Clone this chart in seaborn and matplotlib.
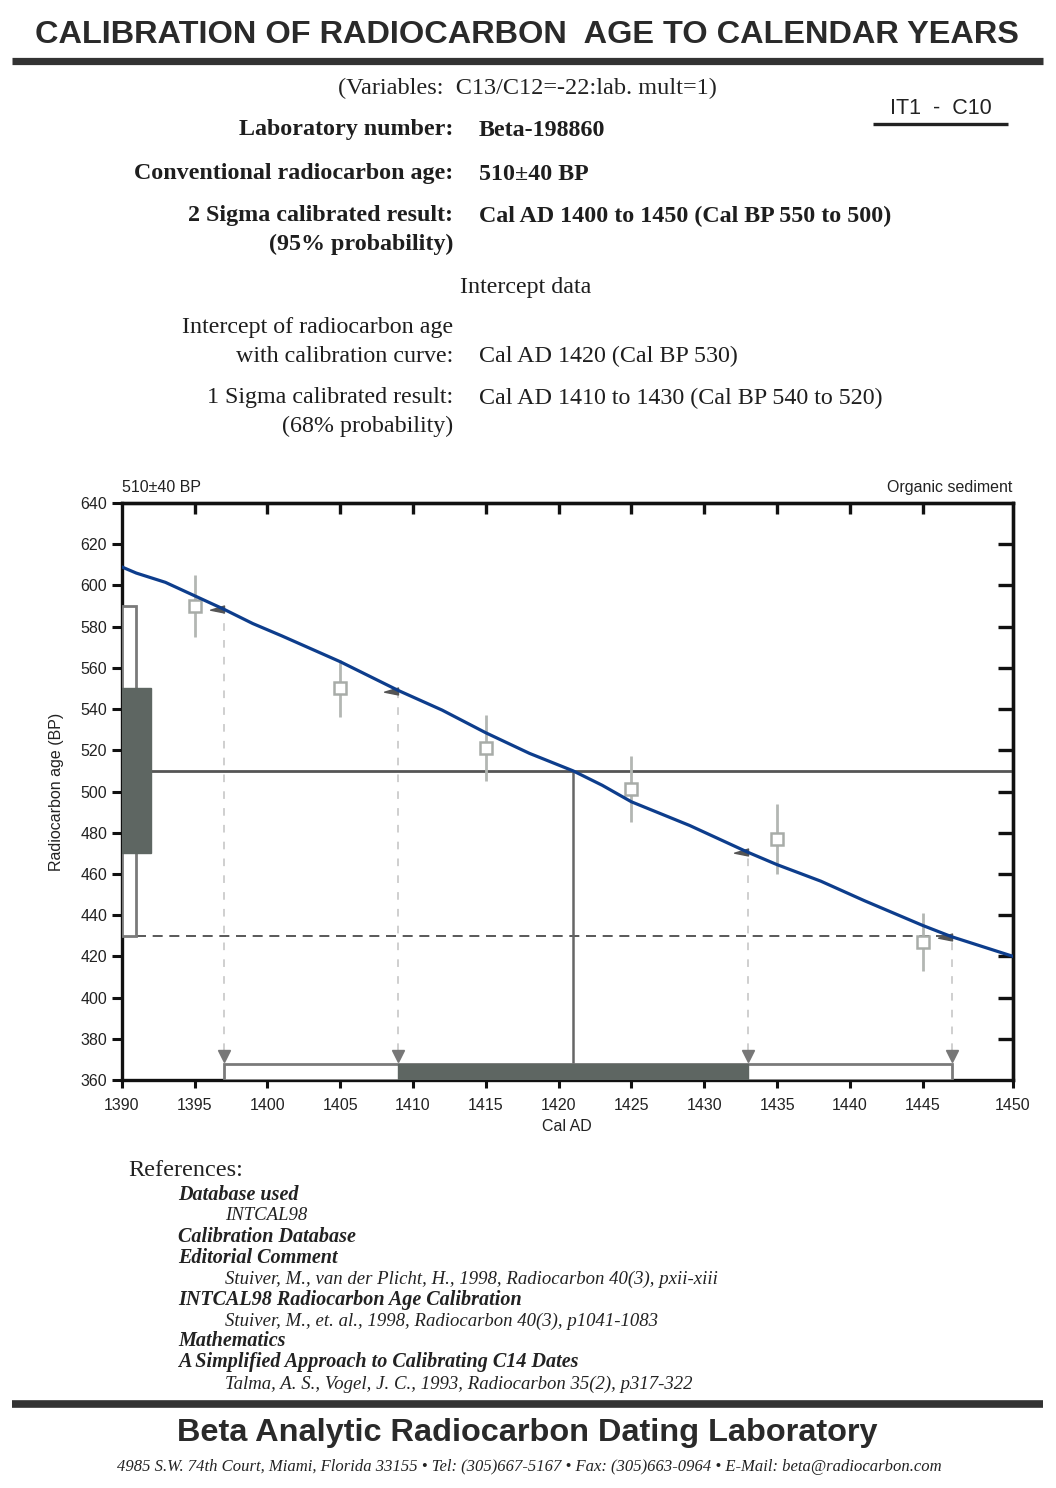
import matplotlib
matplotlib.use("Agg")
import matplotlib.pyplot as plt
import seaborn as sns
import pandas as pd
from matplotlib.patches import Rectangle
from matplotlib.lines import Line2D
from matplotlib.path import Path

# ---------------- data ----------------
curve_years = [1390, 1391, 1393, 1395, 1397, 1399, 1401, 1405, 1409, 1412, 1415,
               1418, 1421, 1423, 1425, 1429, 1433, 1435, 1438, 1441, 1445, 1447, 1451.2]
curve_bp = [609, 606, 601.5, 595, 588.5, 581.5, 575.5, 563, 549, 539.5, 528.5,
            518.5, 510, 503, 495, 483.5, 470.5, 464.5, 456.5, 447, 435, 429.5, 420]

sample_years = [1395, 1405, 1415, 1425, 1435, 1445]
sample_bp = [590, 550, 521, 501, 477, 427]
sample_err = [15, 14, 16, 16, 17, 14]

c14_age = 510
one_sigma_bp = [470, 550]
two_sigma_bp = [430, 590]
intercept_year = 1421
two_sigma_years = [1397, 1447]
one_sigma_years = [1409, 1433]
edge_years = [1397, 1409, 1433, 1447]
edge_bp = [588.5, 549, 470.5, 429.5]

x_tick_labels = ["1390", "1395", "1400", "1405", "1410", "1415", "1420",
                 "1425", "1430", "1435", "1440", "1445", "1450"]
x_tick_pos = [1390, 1395, 1400, 1405, 1410, 1415, 1420, 1425, 1430, 1435, 1440, 1445, 1451.2]
y_ticks = [360, 380, 400, 420, 440, 460, 480, 500, 520, 540, 560, 580, 600, 620, 640]

# ---------------- styling ----------------
sns.set_theme(style="ticks")
plt.rcParams["font.family"] = ["Liberation Sans", "DejaVu Sans"]

W, H = 1056, 1488
fig = plt.figure(figsize=(W / 100, H / 100), dpi=100)
fig.patch.set_facecolor("white")

SERIF = ["Liberation Serif", "DejaVu Serif"]
SANS = ["Liberation Sans", "DejaVu Sans"]


def ftext(x, y, s, **kw):
    kw.setdefault("va", "center")
    fig.text(x / W, 1 - y / H, s, **kw)


def hrule(x0, x1, y, lw, color="#333333"):
    fig.add_artist(Line2D([x0 / W, x1 / W], [1 - y / H, 1 - y / H], lw=lw, color=color,
                          solid_capstyle="butt"))


# ---------------- header ----------------
ftext(527, 35, "CALIBRATION OF RADIOCARBON  AGE TO CALENDAR YEARS", ha="center",
      family=SANS, fontweight="bold", fontsize=23.4, color="#2a2a2a")
hrule(12, 1043, 60.5, 5.2)
ftext(527, 88, "(Variables:  C13/C12=-22:lab. mult=1)", ha="center", family=SERIF,
      fontsize=17.5, color="#222")
ftext(941, 108, "IT1  -  C10", ha="center", family=SANS, fontsize=15.5, color="#222")
hrule(873, 1008, 124, 2.4, "#222")

left_rows = [
    (130, "Laboratory number:", "Beta-198860", "bold"),
    (174, "Conventional radiocarbon age:", "510±40 BP", "bold"),
    (216, "2 Sigma calibrated result:", "Cal AD 1400 to 1450 (Cal BP 550 to 500)", "bold"),
    (244, "(95% probability)", "", "bold"),
    (328, "Intercept of radiocarbon age", "", "normal"),
    (356, "with calibration curve:", "Cal AD 1420 (Cal BP 530)", "normal"),
    (398, "1 Sigma calibrated result:", "Cal AD 1410 to 1430 (Cal BP 540 to 520)", "normal"),
    (426, "(68% probability)", "", "normal"),
]
for y, lab, val, wt in left_rows:
    ftext(453, y, lab, ha="right", family=SERIF, fontweight=wt, fontsize=17.3, color="#1e1e1e")
    if val:
        ftext(479, y, val, ha="left", family=SERIF, fontweight=wt, fontsize=17.3, color="#1e1e1e")
ftext(526, 287, "Intercept data", ha="center", family=SERIF, fontsize=17.3, color="#1e1e1e")

# ---------------- chart ----------------
ax_l, ax_r, ax_t, ax_b = 121.7, 1013, 503, 1080
ax = fig.add_axes([ax_l / W, 1 - ax_b / H, (ax_r - ax_l) / W, (ax_b - ax_t) / H])
ax.set_facecolor("white")
ax.set_xlim(x_tick_pos[0], x_tick_pos[-1])
ax.set_ylim(y_ticks[0], y_ticks[-1])

bar_top = 368
dark = "#5e6662"
edge = "#7a7a7a"

# left BP bars
ax.add_patch(Rectangle((1390, two_sigma_bp[0]), 1.0, two_sigma_bp[1] - two_sigma_bp[0],
                       facecolor="white", edgecolor=edge, lw=2, zorder=3))
ax.add_patch(Rectangle((1390, one_sigma_bp[0]), 2.0, one_sigma_bp[1] - one_sigma_bp[0],
                       facecolor=dark, edgecolor=dark, lw=1, zorder=4))
# bottom calendar bars
ax.add_patch(Rectangle((two_sigma_years[0], 360), two_sigma_years[1] - two_sigma_years[0],
                       bar_top - 360, facecolor="white", edgecolor=edge, lw=2, zorder=3))
ax.add_patch(Rectangle((one_sigma_years[0], 360), one_sigma_years[1] - one_sigma_years[0],
                       bar_top - 360, facecolor=dark, edgecolor=dark, lw=1, zorder=4))

# age line and intercept
ax.plot([1392, x_tick_pos[-1]], [c14_age, c14_age], color="#555555", lw=2, zorder=2)
ax.plot([1391, two_sigma_years[1]], [two_sigma_bp[0], two_sigma_bp[0]], color="#3c3c3c",
        lw=1.2, ls=(0, (6, 4)), zorder=2)
ax.plot([intercept_year, intercept_year], [bar_top, c14_age], color="#666666", lw=1.8, zorder=2)

# dashed drop lines
for xe, ye in zip(edge_years, edge_bp):
    ax.plot([xe, xe], [bar_top + 6, ye], color="#c2c2c2", lw=1.1, ls=(0, (5, 6)), zorder=1)
ax.plot(edge_years, [bar_top + 3.8] * len(edge_years), ls="none", marker="v",
        markersize=8, color="#777777", zorder=5)

# sample points with error bars
ax.errorbar(sample_years, sample_bp, yerr=sample_err, fmt="s", color="#b3b7b3",
            ecolor="#b3b7b3", elinewidth=2, capsize=0, markersize=8,
            markerfacecolor="white", markeredgecolor="#a8aca8", markeredgewidth=1.8, zorder=3)

# calibration curve
df = pd.DataFrame({"year": curve_years, "bp": curve_bp})
sns.lineplot(data=df, x="year", y="bp", ax=ax, color="#0d3d8c", lw=2.3, zorder=6,
             sort=False, estimator=None)

# wedge markers at curve intercepts
wedge = Path([(0, 0.25), (0, -0.25), (-1, -0.05), (0, 0.25)],
             [Path.MOVETO, Path.LINETO, Path.LINETO, Path.CLOSEPOLY])
ax.plot(edge_years, edge_bp, ls="none", marker=wedge, markersize=20, color="#555555", zorder=5)

# axes formatting
ax.set_xticks(x_tick_pos)
ax.set_xticklabels(x_tick_labels)
ax.set_yticks(y_ticks)
ax.set_yticklabels([str(v) for v in y_ticks])
ax.tick_params(axis="x", direction="out", length=6, width=2.2, pad=7, labelsize=11.5,
               colors="#111", labelcolor="#222")
ax.tick_params(axis="y", direction="out", length=7.5, width=2.2, pad=3, labelsize=11.5,
               colors="#111", labelcolor="#222")
for s in ax.spines.values():
    s.set_visible(True)
    s.set_linewidth(2.4)
    s.set_color("#111")
ax.set_xlabel("Cal AD", fontsize=11.5, color="#222", labelpad=4)
ax.set_ylabel("Radiocarbon age (BP)", fontsize=11.5, color="#222", labelpad=12)
ax.grid(False)

secx = ax.secondary_xaxis("top")
secx.set_xticks(x_tick_pos[1:-1])
secx.set_xticklabels([])
secx.tick_params(direction="in", length=8, width=2.4, colors="#111")
secx.spines["top"].set_linewidth(2.4)
secy = ax.secondary_yaxis("right")
secy.set_yticks(y_ticks[1:-1])
secy.set_yticklabels([])
secy.tick_params(direction="in", length=10.5, width=2.4, colors="#111")
secy.spines["right"].set_linewidth(2.4)

ftext(122, 488, "510±40 BP", ha="left", family=SANS, fontsize=11.5, color="#222")
ftext(1012, 488, "Organic sediment", ha="right", family=SANS, fontsize=11.5, color="#222")

# ---------------- references ----------------
ftext(128, 1170, "References:", ha="left", family=SERIF, fontsize=17.5, color="#222")
refs = [
    (1195, 178, "Database used", "bold"),
    (1215, 225, "INTCAL98", "normal"),
    (1237, 178, "Calibration Database", "bold"),
    (1258, 178, "Editorial Comment", "bold"),
    (1279, 225, "Stuiver, M., van der Plicht, H., 1998, Radiocarbon 40(3), pxii-xiii", "normal"),
    (1300, 178, "INTCAL98 Radiocarbon Age Calibration", "bold"),
    (1321, 225, "Stuiver, M., et. al., 1998, Radiocarbon 40(3), p1041-1083", "normal"),
    (1341, 178, "Mathematics", "bold"),
    (1362, 178, "A Simplified Approach to Calibrating C14 Dates", "bold"),
    (1384, 225, "Talma, A. S., Vogel, J. C., 1993, Radiocarbon 35(2), p317-322", "normal"),
]
for y, x, s, wt in refs:
    ftext(x, y, s, ha="left", family=SERIF, style="italic", fontweight=wt,
          fontsize=14.5 if wt == "bold" else 13.5, color="#222")

# ---------------- footer ----------------
hrule(12, 1043, 1404, 5.5)
ftext(527, 1433, "Beta Analytic Radiocarbon Dating Laboratory", ha="center", family=SANS,
      fontweight="bold", fontsize=23.4, color="#2a2a2a")
ftext(529, 1467, "4985 S.W. 74th Court, Miami, Florida 33155 • Tel: (305)667-5167 • "
      "Fax: (305)663-0964 • E-Mail: beta@radiocarbon.com", ha="center", family=SERIF,
      style="italic", fontsize=12, color="#222")

fig.savefig("out.png", dpi=100, facecolor="white")
